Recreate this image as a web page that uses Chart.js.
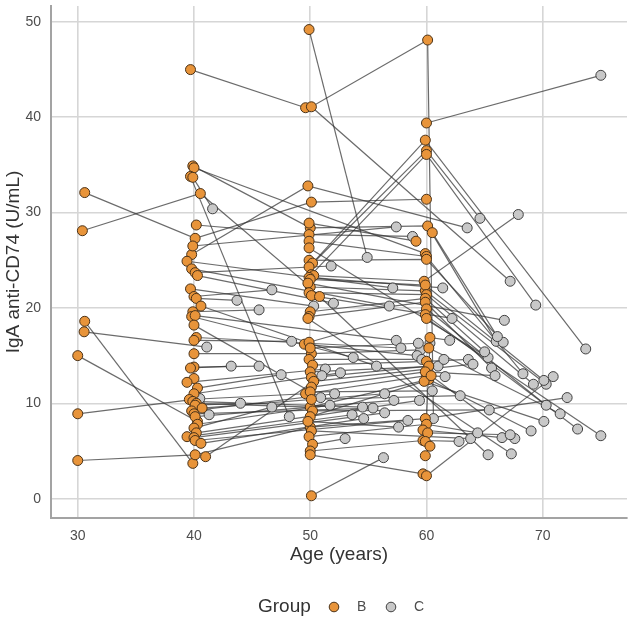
<!DOCTYPE html>
<html>
<head>
<meta charset="utf-8">
<script src="https://cdn.jsdelivr.net/npm/chart.js@4.4.1/dist/chart.umd.min.js"></script>
<style>
  html, body { margin: 0; padding: 0; background: #fff; }
  #wrap { width: 633px; height: 621px; }
</style>
</head>
<body>
<div id="wrap"><canvas id="myChart" width="633" height="621"></canvas></div>
<script>
// each subject: list of visits [age, IgA, group]; consecutive visits are joined by a line
const from30 = [
  [[30.6, 32.1, 'B'], [40.1, 27.3, 'B'], [50.1, 31.1, 'B'], [60.0, 31.4, 'B']],
  [[30.4, 28.1, 'B'], [40.55, 32.0, 'B'], [50.0, 22.2, 'B'], [59.9, 21.8, 'B'], [70.3, 12.0, 'C']],
  [[30.6, 18.6, 'B'], [39.9, 3.7, 'B']],
  [[30.55, 17.5, 'B'], [41.1, 15.9, 'C']],
  [[30.0, 15.0, 'B'], [40.3, 8.1, 'B']],
  [[30.0, 8.9, 'B'], [40.5, 10.5, 'C']],
  [[30.0, 4.0, 'B'], [40.1, 4.6, 'B'], [50.0, 7.5, 'B'], [59.9, 8.4, 'B'], [72.1, 10.6, 'C']],
];

const from40 = [
  [[39.7, 45.0, 'B'], [49.6, 41.0, 'B']],
  [[39.9, 34.9, 'B'], [50.0, 28.4, 'B'], [60.1, 28.6, 'B'], [66.0, 16.5, 'C']],
  [[40.0, 34.7, 'B'], [59.9, 25.7, 'B']],
  [[39.7, 33.8, 'B'], [48.2, 8.6, 'C']],
  [[39.9, 33.7, 'B'], [41.6, 30.4, 'C']],
  [[40.2, 28.7, 'B'], [49.9, 27.7, 'B'], [58.8, 27.5, 'C']],
  [[39.8, 25.6, 'B'], [49.8, 32.8, 'B'], [63.5, 28.4, 'C']],
  [[39.9, 26.5, 'B'], [57.4, 28.5, 'C']],
  [[39.4, 24.9, 'B'], [57.1, 22.1, 'C']],
  [[39.8, 24.1, 'B'], [56.8, 20.2, 'C']],
  [[40.1, 23.7, 'B'], [51.8, 24.4, 'C']],
  [[40.3, 23.4, 'B'], [52.0, 20.5, 'C']],
  [[39.7, 22.0, 'B'], [50.3, 20.2, 'C']],
  [[40.0, 21.2, 'B'], [46.7, 21.9, 'C']],
  [[40.2, 21.0, 'B'], [43.7, 20.8, 'C']],
  [[40.6, 20.2, 'B'], [55.7, 13.9, 'C']],
  [[39.9, 19.6, 'B'], [45.6, 19.8, 'C']],
  [[39.8, 19.1, 'B'], [53.7, 14.8, 'C']],
  [[40.1, 19.2, 'B'], [57.4, 16.6, 'C']],
  [[40.0, 18.2, 'B'], [50.9, 10.6, 'C']],
  [[40.2, 16.9, 'B'], [57.8, 15.8, 'C']],
  [[40.0, 16.6, 'B'], [48.4, 16.5, 'C']],
  [[40.0, 15.2, 'B'], [50.1, 15.2, 'B'], [59.5, 15.6, 'C']],
  [[40.0, 13.8, 'B'], [45.6, 13.9, 'C']],
  [[39.7, 13.7, 'B'], [43.2, 13.9, 'C']],
  [[40.0, 12.6, 'B'], [41.3, 8.8, 'C']],
  [[39.4, 12.2, 'B'], [51.3, 13.6, 'C']],
  [[40.3, 11.6, 'B'], [47.5, 13.0, 'C']],
  [[40.0, 11.0, 'B'], [52.6, 13.2, 'C']],
  [[39.6, 10.4, 'B'], [49.6, 11.0, 'B'], [60.0, 12.9, 'B'], [61.6, 12.8, 'C']],
  [[39.9, 10.2, 'B'], [54.5, 9.6, 'C']],
  [[40.2, 10.0, 'B'], [50.0, 9.6, 'B'], [60.2, 12.5, 'B'], [69.0, 7.1, 'C']],
  [[40.1, 9.8, 'B'], [44.0, 10.0, 'C']],
  [[40.7, 9.5, 'B'], [56.4, 11.0, 'C']],
  [[39.8, 9.2, 'B'], [52.1, 11.0, 'C']],
  [[40.0, 8.9, 'B'], [55.4, 9.5, 'C']],
  [[40.1, 8.6, 'B'], [57.2, 10.3, 'C']],
  [[40.3, 7.8, 'B'], [51.7, 9.8, 'C']],
  [[40.0, 7.4, 'B'], [46.7, 9.6, 'C']],
  [[40.2, 6.9, 'B'], [59.4, 10.3, 'C']],
  [[39.4, 6.5, 'B'], [53.6, 8.8, 'C']],
  [[40.0, 6.4, 'B'], [56.4, 9.0, 'C']],
  [[40.1, 6.1, 'B'], [58.4, 8.2, 'C']],
  [[40.6, 5.8, 'B'], [54.6, 8.4, 'C']],
  [[41.0, 4.4, 'B'], [51.0, 12.9, 'C']],
];

const from50 = [
  [[49.9, 49.2, 'B'], [54.9, 25.3, 'C']],
  [[60.6, 8.4, 'C'], [60.1, 48.1, 'B'], [50.1, 41.1, 'B'], [67.2, 22.8, 'C']],
  [[49.9, 28.9, 'B'], [59.1, 27.0, 'B']],
  [[49.9, 27.0, 'B'], [60.0, 25.4, 'B'], [68.3, 13.1, 'C']],
  [[49.9, 26.3, 'B'], [65.3, 14.8, 'C']],
  [[49.9, 25.0, 'B'], [60.0, 25.1, 'B'], [66.6, 16.4, 'C']],
  [[50.2, 24.7, 'B'], [59.9, 37.6, 'B'], [73.7, 15.7, 'C']],
  [[49.9, 24.3, 'B'], [60.0, 36.5, 'B'], [64.6, 29.4, 'C']],
  [[50.1, 23.5, 'B'], [60.0, 36.1, 'B'], [69.4, 20.3, 'C']],
  [[50.3, 23.4, 'B'], [59.8, 22.8, 'B'], [67.9, 29.8, 'C']],
  [[49.9, 23.2, 'B'], [61.4, 22.1, 'C']],
  [[50.0, 23.0, 'B'], [59.9, 22.4, 'B'], [70.1, 12.4, 'C']],
  [[49.8, 22.6, 'B'], [66.7, 18.7, 'C']],
  [[49.9, 21.6, 'B'], [60.0, 21.4, 'B'], [69.2, 12.0, 'C']],
  [[50.1, 21.3, 'B'], [62.2, 18.9, 'C']],
  [[50.8, 21.2, 'B'], [65.3, 4.6, 'C']],
  [[50.0, 19.6, 'B'], [59.9, 21.0, 'B'], [65.0, 15.4, 'C']],
  [[49.9, 19.1, 'B'], [59.9, 20.6, 'B'], [65.6, 13.7, 'C']],
  [[49.8, 18.9, 'B'], [67.3, 4.7, 'C']],
  [[49.5, 16.2, 'B'], [59.2, 15.0, 'C']],
  [[49.9, 16.4, 'B'], [60.0, 19.9, 'B'], [70.3, 9.8, 'C']],
  [[50.0, 15.8, 'B'], [59.3, 16.3, 'C']],
  [[49.9, 14.6, 'B'], [59.6, 14.6, 'C']],
  [[50.2, 14.0, 'B'], [60.0, 14.4, 'B'], [63.6, 14.6, 'C']],
  [[50.0, 13.3, 'B'], [61.0, 13.9, 'C']],
  [[50.1, 12.7, 'B'], [60.2, 13.9, 'B'], [61.5, 14.6, 'C']],
  [[50.3, 12.3, 'B'], [64.0, 14.1, 'C']],
  [[50.1, 11.7, 'B'], [59.9, 13.3, 'B'], [65.9, 12.9, 'C']],
  [[50.0, 11.2, 'B'], [60.5, 11.3, 'C']],
  [[50.1, 10.4, 'B'], [62.9, 10.8, 'C']],
  [[50.2, 9.2, 'B'], [65.4, 9.3, 'C']],
  [[50.0, 8.6, 'B'], [59.8, 12.3, 'B'], [70.1, 8.1, 'C']],
  [[49.8, 8.1, 'B'], [57.6, 7.5, 'C']],
  [[50.1, 7.1, 'B'], [63.8, 6.3, 'C']],
  [[49.9, 6.5, 'B'], [60.0, 7.8, 'B'], [64.4, 6.9, 'C']],
  [[50.2, 5.7, 'B'], [53.0, 6.3, 'C']],
  [[50.0, 5.0, 'B'], [59.7, 6.1, 'B'], [62.8, 6.0, 'C']],
  [[50.0, 4.6, 'B'], [59.7, 2.6, 'B']],
  [[50.1, 0.3, 'B'], [56.3, 4.3, 'C']],
];

const from60 = [
  [[60.0, 39.4, 'B'], [75.0, 44.4, 'C']],
  [[60.5, 27.9, 'B'], [66.1, 17.0, 'C']],
  [[60.3, 16.9, 'B'], [62.0, 16.6, 'C']],
  [[60.2, 15.8, 'B'], [71.5, 8.9, 'C']],
  [[59.9, 19.3, 'B'], [73.0, 7.3, 'C']],
  [[60.0, 18.9, 'B'], [75.0, 6.6, 'C']],
  [[60.4, 12.9, 'B'], [67.6, 6.3, 'C']],
  [[59.7, 7.2, 'B'], [66.5, 6.4, 'C']],
  [[60.1, 6.9, 'B'], [67.2, 6.7, 'C']],
  [[59.9, 6.0, 'B'], [60.3, 16.3, 'C']],
  [[60.0, 2.4, 'B'], [70.9, 12.8, 'C']],
  [[60.3, 5.5, 'B']],
  [[59.9, 4.5, 'B']],
];

const groups = ['B', 'C'];
const groupFill = { B: '#e8943a', C: '#c8c8c8' };
const groupEdge = { B: '#4a3218', C: '#404040' };

const subjects = [...from30, ...from40, ...from50, ...from60];

const pointSets = groups.map((g) => ({
  label: g,
  data: subjects.flat().filter((v) => v[2] === g).map((v) => ({ x: v[0], y: v[1] })),
  backgroundColor: groupFill[g],
  borderColor: groupEdge[g],
  borderWidth: 1,
  pointRadius: 5,
  showLine: false,
}));

const lineSets = subjects.filter((s) => s.length > 1).map((s) => ({
  data: s.map((v) => ({ x: v[0], y: v[1] })),
  showLine: true,
  pointRadius: 0,
  borderColor: 'rgba(50,50,50,0.72)',
  borderWidth: 1.2,
  fill: false,
}));

// simple ggplot-like legend under the plot
const groupLegend = {
  id: 'groupLegend',
  afterDraw(chart) {
    const { ctx } = chart;
    const y = 607;
    ctx.save();
    ctx.textBaseline = 'middle';
    ctx.fillStyle = '#333';
    ctx.font = '19px "Liberation Sans", Arial, sans-serif';
    ctx.textAlign = 'left';
    ctx.fillText('Group', 258, y);
    const items = [{ g: 'B', cx: 334, tx: 357 }, { g: 'C', cx: 391, tx: 414 }];
    items.forEach(({ g, cx, tx }) => {
      ctx.beginPath();
      ctx.arc(cx, y, 4.8, 0, Math.PI * 2);
      ctx.fillStyle = groupFill[g];
      ctx.fill();
      ctx.lineWidth = 1;
      ctx.strokeStyle = groupEdge[g];
      ctx.stroke();
      ctx.fillStyle = '#4d4d4d';
      ctx.font = '14px "Liberation Sans", Arial, sans-serif';
      ctx.fillText(g, tx, y);
    });
    ctx.restore();
  },
};

Chart.defaults.font.family = '"Liberation Sans", Arial, sans-serif';

const ctx = document.getElementById('myChart').getContext('2d');

const chart = new Chart(ctx, {
  type: 'scatter',
  data: { datasets: [...pointSets, ...lineSets] },
  options: {
    responsive: false,
    animation: false,
    layout: { padding: { top: 3, right: 3, bottom: 55, left: 0 } },
    plugins: { legend: { display: false }, tooltip: { enabled: false } },
    scales: {
      x: {
        type: 'linear',
        min: 27.7,
        max: 77.25,
        afterFit: (s) => { s.height = 48; s.paddingLeft = 0; s.paddingRight = 0; },
        ticks: { stepSize: 10, includeBounds: false, color: '#4d4d4d', font: { size: 14 }, padding: 10 },
        grid: { color: '#d6d6d6', lineWidth: 1.6, drawTicks: false },
        border: { color: '#a3a3a3', width: 2 },
        title: { display: true, text: 'Age (years)', color: '#333', font: { size: 19 }, padding: 0 },
      },
      y: {
        type: 'linear',
        min: -2.03,
        max: 51.67,
        afterFit: (s) => { s.width = 51; s.paddingTop = 0; s.paddingBottom = 0; },
        ticks: { stepSize: 10, includeBounds: false, color: '#4d4d4d', font: { size: 14 }, padding: 10 },
        grid: { color: '#d6d6d6', lineWidth: 1.6, drawTicks: false },
        border: { color: '#a3a3a3', width: 2 },
        title: { display: true, text: 'IgA anti-CD74 (U/mL)', color: '#333', font: { size: 19 }, padding: { top: 2, bottom: 0 } },
      },
    },
  },
  plugins: [groupLegend],
});
</script>
</body>
</html>
